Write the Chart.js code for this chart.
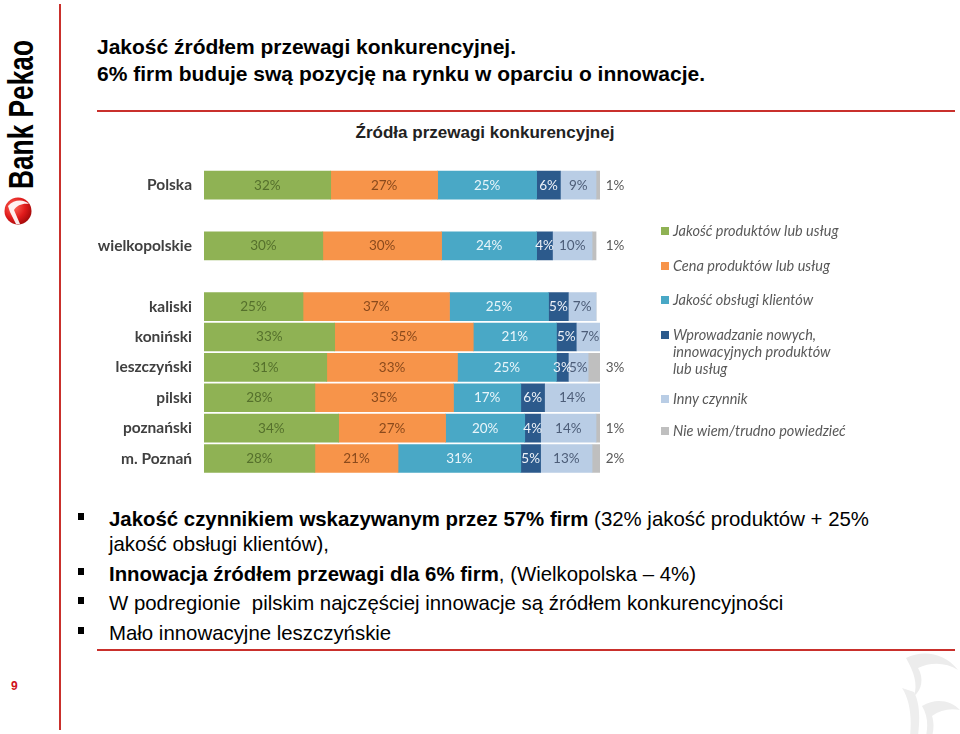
<!DOCTYPE html>
<html lang="pl">
<head>
<meta charset="utf-8">
<script src="https://cdn.jsdelivr.net/npm/chart.js@4.4.1/dist/chart.umd.min.js"></script>
<style>
    html, body {
        margin: 0;
        padding: 0;
        background: #ffffff;
    }

    #page {
        position: relative;
        width: 960px;
        height: 734px;
        overflow: hidden;
        font-family: "Liberation Sans", Arial, sans-serif;
        color: #000;
    }

    .rule {
        position: absolute;
        background: #c9302c;
    }

    #heading {
        position: absolute;
        left: 97px;
        top: 33px;
        font-weight: bold;
        font-size: 21px;
        line-height: 27px;
        white-space: nowrap;
    }

    #chartTitle {
        position: absolute;
        left: 285px;
        top: 123px;
        width: 400px;
        text-align: center;
        font-weight: bold;
        font-size: 17px;
        line-height: 20px;
        color: #222;
    }

    #chart {
        position: absolute;
        left: 90px;
        top: 115px;
    }

    #notes {
        position: absolute;
        left: 109px;
        top: 507px;
        margin: 0;
        padding: 0;
        list-style: none;
        font-size: 20.4px;
        line-height: 25px;
        white-space: nowrap;
    }

    #notes li {
        position: relative;
        margin-bottom: 4.5px;
    }

    #notes li::before {
        content: "";
        position: absolute;
        left: -31px;
        top: 6px;
        width: 6px;
        height: 7px;
        background: #000;
    }

    #pageNo {
        position: absolute;
        left: 11px;
        top: 679px;
        font-size: 12px;
        font-weight: bold;
        color: #d0101a;
    }
</style>
</head>
<body>
<div id="page">
    <svg width="45" height="240" style="position:absolute;left:0;top:0">
        <defs>
            <radialGradient id="ball" cx="35%" cy="35%" r="70%">
                <stop offset="0%" stop-color="#ff6a5a"/>
                <stop offset="60%" stop-color="#e01b1b"/>
                <stop offset="100%" stop-color="#a50a0a"/>
            </radialGradient>
        </defs>
        <text transform="translate(33,189) rotate(-90)" font-family="Liberation Sans, Arial, sans-serif"
              font-weight="bold" font-size="35" textLength="149" lengthAdjust="spacingAndGlyphs"
              fill="#000">Bank Pekao</text>
        <circle cx="18" cy="211" r="13.5" fill="url(#ball)"/>
        <path d="M8 206 C14 199 24 199 29 204 C23 203 17 205 14 210 L20 224 L16 224 L10 212 Z" fill="#ffffff" opacity="0.92"/>
    </svg>

    <div class="rule" style="left:59px; top:4px; width:2px; height:726px;"></div>
    <div class="rule" style="left:97px; top:110px; width:858px; height:2px;"></div>
    <div class="rule" style="left:97px; top:649px; width:858px; height:2px;"></div>

    <div id="heading">Jakość źródłem przewagi konkurencyjnej.<br>6% firm buduje swą pozycję na rynku w oparciu o innowacje.</div>

    <div id="chartTitle">Źródła przewagi konkurencyjnej</div>

    <canvas id="chart" width="790" height="380"></canvas>

    <ul id="notes">
        <li><b>Jakość czynnikiem wskazywanym przez 57% firm</b> (32% jakość produktów + 25%<br>jakość obsługi klientów),</li>
        <li><b>Innowacja źródłem przewagi dla 6% firm</b>, (Wielkopolska – 4%)</li>
        <li>W podregionie&nbsp; pilskim najczęściej innowacje są źródłem konkurencyjności</li>
        <li>Mało innowacyjne leszczyńskie</li>
    </ul>

    <div id="pageNo">9</div>

    <svg width="70" height="90" style="position:absolute;left:892px;top:648px">
        <path d="M14 10 C30 2 52 4 66 22 C54 14 38 14 26 20 C32 30 30 42 22 48 C26 36 22 24 14 10 Z" fill="#ececec"/>
        <path d="M10 40 C18 52 20 70 18 88 L26 88 C28 70 28 56 22 44 Z" fill="#eeeeee"/>
        <path d="M30 58 C44 50 58 52 68 62 C58 60 48 62 40 68 C42 74 42 82 40 88 L34 88 C36 78 36 68 30 58 Z" fill="#ededed"/>
    </svg>
</div>

<script>
// ============================================
// DATA
// ============================================

const categories = [
    'Polska', '', 'wielkopolskie', '',
    'kaliski', 'koniński', 'leszczyński', 'pilski', 'poznański', 'm. Poznań'
];

const seriesNames = [
    'Jakość produktów lub usług',
    'Cena produktów lub usług',
    'Jakość obsługi klientów',
    'Wprowadzanie nowych,\ninnowacyjnych produktów\nlub usług',
    'Inny czynnik',
    'Nie wiem/trudno powiedzieć'
];

const jakoscProduktow = [32, null, 30, null, 25, 33, 31, 28, 34, 28];
const cenaProduktow   = [27, null, 30, null, 37, 35, 33, 35, 27, 21];
const jakoscObslugi   = [25, null, 24, null, 25, 21, 25, 17, 20, 31];
const innowacje       = [6,  null, 4,  null, 5,  5,  3,  6,  4,  5];
const innyCzynnik     = [9,  null, 10, null, 7,  7,  5,  14, 14, 13];
const nieWiem         = [1,  null, 1,  null, 0,  0,  3,  0,  1,  2];

const seriesValues = [
    jakoscProduktow, cenaProduktow, jakoscObslugi, innowacje, innyCzynnik, nieWiem
];

const barColors   = ['#8fb254', '#f7944a', '#49a8c6', '#2c5a8c', '#b9cde5', '#bfbfbf'];
const labelColors = ['#55702c', '#8a4a1c', '#e8f5fa', '#eef2f8', '#4d5d78', '#595959'];

// ============================================
// PLUGINS
// ============================================

const segmentLabels = {
    id: 'segmentLabels',

    afterDatasetsDraw(chart) {
        const ctx = chart.ctx;
        const area = chart.chartArea;
        const last = chart.data.datasets.length - 1;

        ctx.save();
        ctx.font = '13.5px Lato, "Open Sans", sans-serif';
        ctx.textAlign = 'center';
        ctx.textBaseline = 'middle';

        chart.data.datasets.forEach((dataset, di) => {
            const meta = chart.getDatasetMeta(di);

            meta.data.forEach((bar, i) => {
                const value = dataset.data[i];

                if (!value) {
                    return;
                }

                const x = di === last ? area.right + 15 : (bar.x + bar.base) / 2;

                ctx.fillStyle = labelColors[di];
                ctx.fillText(value + '%', x, bar.y);
            });
        });

        ctx.restore();
    }
};

const sideLegend = {
    id: 'sideLegend',

    afterDraw(chart) {
        const ctx = chart.ctx;
        const rowY = [116, 151, 185, 220, 284, 316];
        const boxX = 571;
        const textX = 583;
        const lineHeight = 17;

        ctx.save();
        ctx.font = 'italic 14.5px Lato, "Open Sans", sans-serif';
        ctx.textAlign = 'left';
        ctx.textBaseline = 'middle';

        chart.data.datasets.forEach((dataset, di) => {
            const y = rowY[di];

            ctx.fillStyle = dataset.backgroundColor;
            ctx.fillRect(boxX, y - 4, 8, 8);

            ctx.fillStyle = '#595959';
            dataset.label.split('\n').forEach((line, li) => {
                ctx.fillText(line, textX, y + li * lineHeight);
            });
        });

        ctx.restore();
    }
};

// ============================================
// CHART
// ============================================

const ctx = document.getElementById('chart').getContext('2d');

new Chart(ctx, {
    type: 'bar',

    data: {
        labels: categories,

        datasets: seriesValues.map((values, i) => ({
            label: seriesNames[i],
            data: values,
            backgroundColor: barColors[i],
            borderWidth: 0,
            barThickness: 28
        }))
    },

    options: {
        indexAxis: 'y',
        responsive: false,
        animation: false,

        layout: {
            padding: {
                top: 55,
                right: 280,
                bottom: 7,
                left: 0
            }
        },

        plugins: {
            legend: {
                display: false
            },

            tooltip: {
                enabled: false
            }
        },

        scales: {
            x: {
                display: false,
                stacked: true,
                min: 0,
                max: 100
            },

            y: {
                stacked: true,

                grid: {
                    display: false,
                    drawTicks: false
                },

                border: {
                    display: false
                },

                ticks: {
                    padding: 12,
                    color: '#404040',

                    font: {
                        family: 'Lato, "Open Sans", sans-serif',
                        size: 15.5,
                        weight: 'bold'
                    }
                },

                afterFit(scale) {
                    scale.width = 114;
                }
            }
        }
    },

    plugins: [segmentLabels, sideLegend]
});
</script>
</body>
</html>
